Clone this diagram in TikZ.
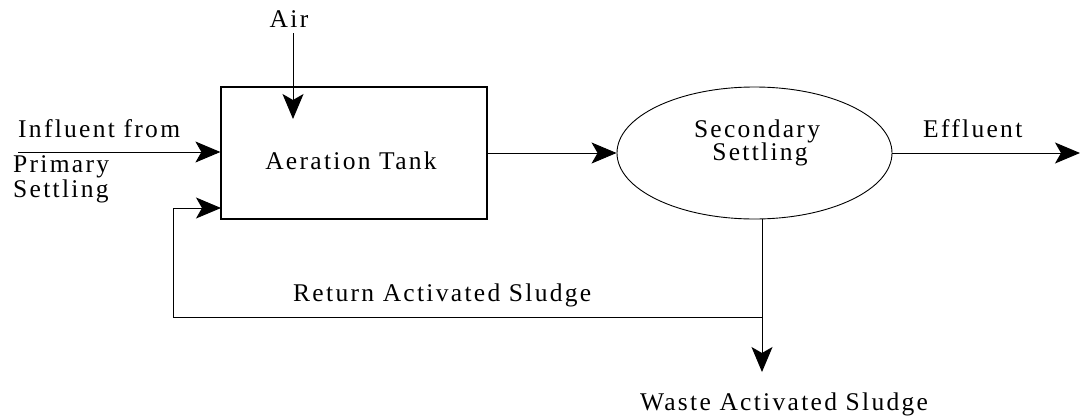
\documentclass[tikz,border=0pt]{standalone}
\usepackage{fontspec}
\setmainfont{Liberation Serif}
\newfontfamily\diafont[LetterSpace=9]{Liberation Serif}
\usetikzlibrary{arrows.meta,shapes.geometric}
\begin{document}
\begin{tikzpicture}[x=1pt,y=-1pt,
  lbl/.style={inner sep=0pt,font=\diafont\fontsize{25.5}{20}\selectfont},
  tankbox/.style={draw,line width=1.2pt,minimum width=266pt,minimum height=132pt,inner sep=0pt},
  settler/.style={draw,ellipse,line width=0.9pt,minimum width=275pt,minimum height=132pt,inner sep=0pt},
  flow/.style={line width=0.9pt,-{Stealth[length=25pt,width=21pt,inset=6pt]}},
  pipe/.style={line width=0.9pt}]
\useasboundingbox (0,0) rectangle (1080,418);
% blocks
\node[tankbox] (tank) at (354,153) {};
\node[lbl,anchor=base] (tanktxt) at (351,169) {Aeration Tank};
\node[settler] (ell) at (754.5,153) {};
\node[lbl,anchor=base] (sec1) at (757,137) {Secondary};
\node[lbl,anchor=base] (sec2) at (760,160) {Settling};
% labels
\node[lbl,anchor=base] (air) at (289,27) {Air};
\node[lbl,anchor=base west] (inf1) at (18,137) {Influent from};
\node[lbl,anchor=base west,align=left] (inf2) at (13,197) {Primary\\Settling};
\node[lbl,anchor=base west] (eff) at (923,137) {Effluent};
\node[lbl,anchor=base west] (ras) at (293,301) {Return Activated Sludge};
\node[lbl,anchor=base] (was) at (784,410) {Waste Activated Sludge};
% coordinates
\coordinate (airtop) at (293,33);
\coordinate (airtip) at (293,119);
\coordinate (infstart) at (18,152);
\coordinate (branch) at (762,317);
\coordinate (corner) at (173,317);
\coordinate (retin) at (221,208);
\coordinate (wastetip) at (762,372);
\coordinate (efftip) at (1080,153);
% connectors
\draw[flow] (airtop) -- (airtip);
\draw[flow] (infstart) -- (tank.west |- infstart);
\draw[flow] (tank.east) -- (ell.west);
\draw[flow] (ell.east) -- (efftip);
\draw[flow] (ell.south -| branch) -- (wastetip);
\draw[pipe] (branch) -- (corner);
\draw[flow] (corner) |- (retin);
\end{tikzpicture}
\end{document}
